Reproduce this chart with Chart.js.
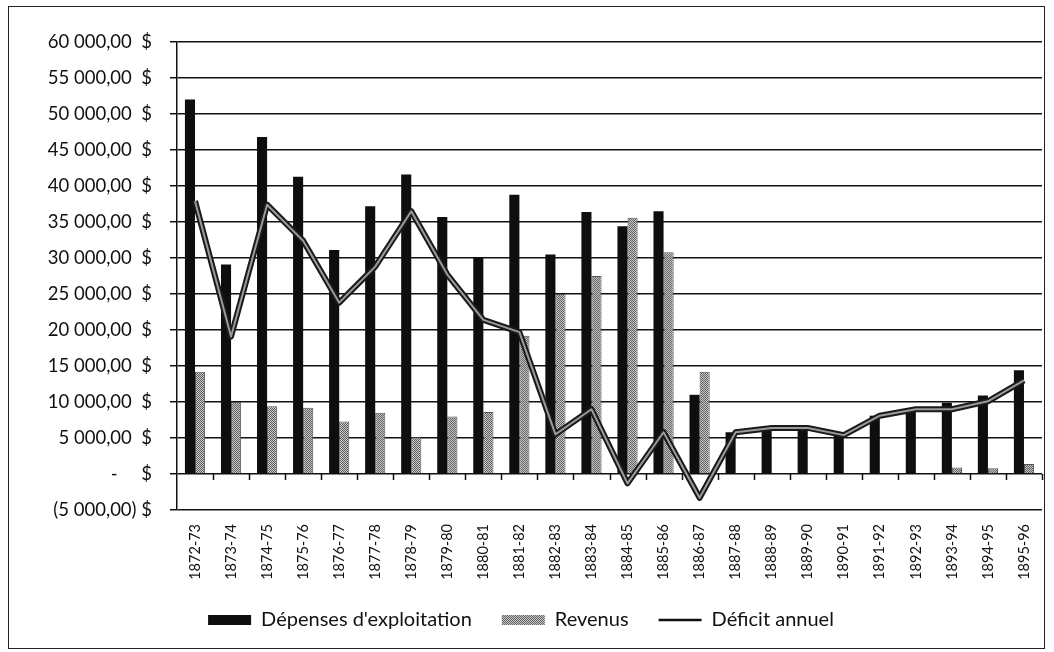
<!DOCTYPE html>
<html lang="fr">
<head>
<meta charset="utf-8">
<title>Dépenses, revenus et déficit annuel</title>
<script src="https://cdn.jsdelivr.net/npm/chart.js@4/dist/chart.umd.min.js"></script>
<style>
  html, body { margin: 0; padding: 0; background: #fff; }
  #frame {
    position: absolute; left: 8px; top: 6px; width: 1037px; height: 643px;
    border: 1px solid #222; box-sizing: border-box;
  }
  #wrap { position: absolute; left: 0; top: 0; width: 1054px; height: 652px; }
</style>
</head>
<body>
<div id="frame"></div>
<div id="wrap"><canvas id="chart"></canvas></div>
<script>
const categories = [
  "1872-73", "1873-74", "1874-75", "1875-76", "1876-77", "1877-78",
  "1878-79", "1879-80", "1880-81", "1881-82", "1882-83", "1883-84",
  "1884-85", "1885-86", "1886-87", "1887-88", "1888-89", "1889-90",
  "1890-91", "1891-92", "1892-93", "1893-94", "1894-95", "1895-96",
];

const depenses = [
  52000, 29100, 46800, 41300, 31100, 37200, 41600, 35700, 30000, 38800,
  30500, 36400, 34400, 36500, 11000, 5800, 6300, 6300, 5300, 8100,
  9000, 9900, 10900, 14400,
];

const revenus = [
  14200, 10000, 9400, 9200, 7300, 8500, 5100, 8000, 8600, 19200,
  25000, 27500, 35600, 30800, 14200, 0, 0, 0, 0, 0,
  0, 900, 800, 1400,
];

const deficit = [
  37900, 19100, 37400, 32400, 23800, 28800, 36500, 27700, 21400, 19700,
  5500, 9000, -1300, 5800, -3300, 5800, 6400, 6400, 5400, 8100,
  9000, 9000, 10100, 13000,
];

const yTicks = { min: -5000, max: 60000, step: 5000 };

// grey dither, like the scanned "Revenus" bars
function makeDither() {
  const c = document.createElement("canvas");
  c.width = 2;
  c.height = 2;
  const g = c.getContext("2d");
  g.fillStyle = "#c6c6c6";
  g.fillRect(0, 0, 2, 2);
  g.fillStyle = "#626262";
  g.fillRect(0, 0, 1, 1);
  g.fillRect(1, 1, 1, 1);
  return g.createPattern(c, "repeat");
}

function formatDollar(v) {
  if (v === 0) return "-     $";
  const s = Math.abs(v)
    .toFixed(2)
    .replace(".", ",")
    .replace(/\B(?=(\d{3})+(?!\d))/g, " ");
  return v < 0 ? "(" + s + ") $" : s + "  $";
}

// small tick marks hanging under the zero line, between categories
const zeroTicks = {
  id: "zeroTicks",
  afterDraw(chart) {
    const { ctx, scales } = chart;
    const x = scales.x;
    const y0 = scales.y.getPixelForValue(0);
    const step = (x.right - x.left) / categories.length;
    ctx.save();
    ctx.strokeStyle = "#111";
    ctx.lineWidth = 1.5;
    ctx.beginPath();
    for (let i = 1; i <= categories.length; i++) {
      const px = Math.round(x.left + i * step) + 0.5;
      ctx.moveTo(px, y0);
      ctx.lineTo(px, y0 + 6);
    }
    ctx.stroke();
    ctx.restore();
  },
};

// the deficit line is printed as a dark outline with a grey core
const lineCore = {
  id: "lineCore",
  afterDatasetsDraw(chart) {
    const meta = chart.getDatasetMeta(2);
    if (!meta || meta.hidden) return;
    const { ctx } = chart;
    ctx.save();
    ctx.strokeStyle = "#9a9a9a";
    ctx.lineWidth = 2;
    ctx.lineJoin = "round";
    ctx.beginPath();
    meta.data.forEach((pt, i) => {
      if (i === 0) ctx.moveTo(pt.x, pt.y);
      else ctx.lineTo(pt.x, pt.y);
    });
    ctx.stroke();
    ctx.restore();
  },
};

const dither = makeDither();
const font = "Lato, 'Open Sans', sans-serif";

new Chart(document.getElementById("chart"), {
  data: {
    labels: categories,
    datasets: [
      {
        type: "bar",
        label: "Dépenses d'exploitation",
        data: depenses,
        backgroundColor: "#0e0e0e",
        borderColor: "#0e0e0e",
        borderWidth: 0,
        categoryPercentage: 0.56,
        barPercentage: 1.0,
        order: 1,
      },
      {
        type: "bar",
        label: "Revenus",
        data: revenus,
        backgroundColor: dither,
        borderColor: "#555",
        borderWidth: 1,
        categoryPercentage: 0.56,
        barPercentage: 1.0,
        order: 1,
      },
      {
        type: "line",
        label: "Déficit annuel",
        data: deficit,
        borderColor: "#1a1a1a",
        backgroundColor: "#1a1a1a",
        borderWidth: 6,
        pointRadius: 0,
        tension: 0,
        borderJoinStyle: "round",
        order: 0,
      },
    ],
  },
  options: {
    responsive: true,
    maintainAspectRatio: false,
    animation: false,
    layout: { padding: { top: 42, right: 12, left: 0, bottom: 12 } },
    plugins: {
      tooltip: { enabled: false },
      legend: {
        position: "bottom",
        labels: {
          font: { family: font, size: 20 },
          color: "#111",
          usePointStyle: true,
          pointStyleWidth: 43,
          boxHeight: 10,
          padding: 30,
          sort: (a, b) => a.datasetIndex - b.datasetIndex,
          generateLabels(chart) {
            const items = Chart.defaults.plugins.legend.labels.generateLabels(chart);
            return items.map((it) => {
              if (it.datasetIndex === 2) {
                it.pointStyle = "line";
                it.lineWidth = 2.5;
                it.strokeStyle = "#111";
              } else {
                it.pointStyle = "rect";
                it.lineWidth = 0;
              }
              return it;
            });
          },
        },
      },
    },
    scales: {
      x: {
        offset: true,
        grid: { display: false },
        border: { display: false },
        ticks: {
          autoSkip: false,
          minRotation: 90,
          maxRotation: 90,
          padding: 6,
          color: "#111",
          font: { family: font, size: 14.5 },
        },
        afterFit(scale) {
          scale.height = 70;
        },
      },
      y: {
        min: yTicks.min,
        max: yTicks.max,
        ticks: {
          stepSize: yTicks.step,
          padding: 18,
          color: "#111",
          font: { family: font, size: 18.5 },
          callback: (v) => formatDollar(v),
        },
        grid: {
          color: "#111",
          lineWidth: 1.5,
          tickLength: 7,
          tickColor: "#111",
        },
        border: { display: true, color: "#111", width: 1.5 },
        afterFit(scale) {
          scale.width = 177;
        },
      },
    },
  },
  plugins: [zeroTicks, lineCore],
});
</script>
</body>
</html>
